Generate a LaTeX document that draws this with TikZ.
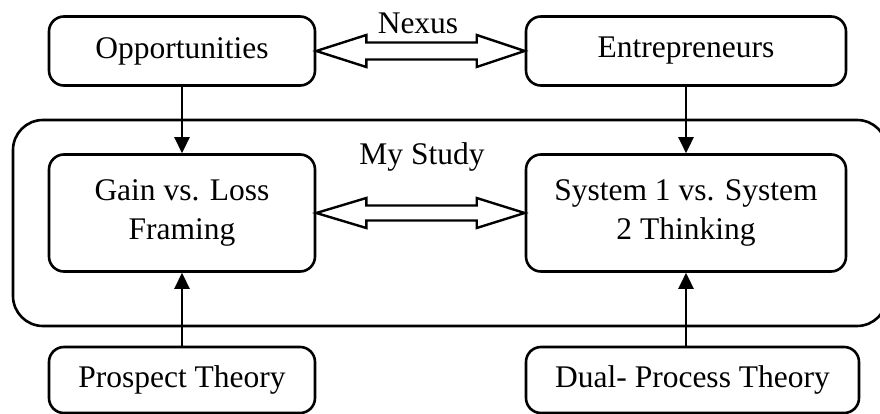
\documentclass[tikz,border=0pt]{standalone}
\usepackage{fontspec}
\setmainfont{Liberation Serif}
\usetikzlibrary{arrows.meta,calc}
\begin{document}
\begin{tikzpicture}[x=1pt,y=-1pt,
  every node/.style={font=\fontsize{31.5}{39}\selectfont},
  box/.style={draw, line width=2.6pt, rounded corners=15pt, align=center, inner sep=0pt},
  bigbox/.style={draw, line width=2.6pt, rounded corners=30pt, inner sep=0pt},
  flow/.style={line width=2.6pt, -{Triangle[length=16pt,width=15pt]}},
  dbl/.style={draw, line width=2.4pt, fill=white, line join=miter}
]
\useasboundingbox (0,0) rectangle (880,414);
% big study box
\node[bigbox, minimum width=874pt, minimum height=206pt] (study) at (450,223) {};
\node (studylbl) at (422,157) {My Study};
% boxes
\node[box, minimum width=266pt, minimum height=69pt] (opp) at (182,51) {Opportunities};
\node[box, minimum width=320pt, minimum height=69pt] (ent) at (686,51) {Entrepreneurs};
\node[box, minimum width=266pt, minimum height=117pt] (gain) at (182,213) {Gain vs. Loss\\Framing};
\node[box, minimum width=320pt, minimum height=117pt] (sys) at (686,213) {System 1 vs. System\\2 Thinking};
\node[box, minimum width=266pt, minimum height=66pt] (pros) at (182,380) {Prospect Theory};
\node[box, minimum width=333pt, minimum height=66pt] (dual) at (692.5,380) {Dual- Process Theory};
\node (nexus) at (418,23) {Nexus};
% vertical arrows
\draw[flow] (opp.south) -- (gain.north);
\draw[flow] (ent.south) -- (sys.north);
\draw[flow] (pros.north) -- (gain.south);
\draw[flow] (dual.north -| sys.south) -- (sys.south);
% double arrows
\coordinate (nL) at (opp.east);
\coordinate (nR) at (ent.west |- opp.east);
\draw[dbl] (nL) -- ($(nL)+(50,-16)$) -- ($(nL)+(50,-8.5)$) -- ($(nR)+(-48,-8.5)$) -- ($(nR)+(-48,-16)$) -- (nR)
  -- ($(nR)+(-48,16)$) -- ($(nR)+(-48,8.5)$) -- ($(nL)+(50,8.5)$) -- ($(nL)+(50,16)$) -- cycle;
\coordinate (sL) at (gain.east);
\coordinate (sR) at (sys.west |- gain.east);
\draw[dbl] (sL) -- ($(sL)+(50,-15)$) -- ($(sL)+(50,-7.5)$) -- ($(sR)+(-48,-7.5)$) -- ($(sR)+(-48,-15)$) -- (sR)
  -- ($(sR)+(-48,15)$) -- ($(sR)+(-48,7.5)$) -- ($(sL)+(50,7.5)$) -- ($(sL)+(50,15)$) -- cycle;
\end{tikzpicture}
\end{document}
